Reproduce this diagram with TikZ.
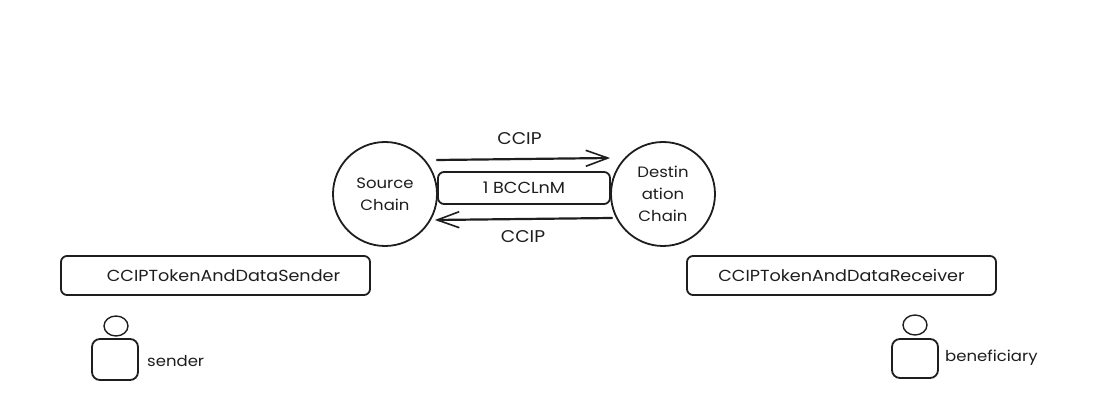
\documentclass[tikz,border=0pt]{standalone}
\usepackage{fontspec}
\setmainfont[FakeStretch=1.1]{Poppins}
\usetikzlibrary{arrows.meta,calc,shapes.geometric}
\definecolor{ink}{HTML}{1E1E1E}
\tikzset{
  ln/.style={draw=ink,line width=1.8pt,line cap=round,line join=round},
  chain/.style={ln,circle,minimum size=104pt,inner sep=0pt,align=center,font=\fontsize{15}{22}\selectfont,text=ink},
  contract/.style={ln,rectangle,rounded corners=6pt,minimum width=309pt,minimum height=39pt,inner sep=0pt,font=\fontsize{16}{18}\selectfont,text=ink},
  tokenbox/.style={ln,rectangle,rounded corners=6pt,minimum width=172pt,minimum height=32pt,inner sep=0pt,font=\fontsize{16}{18}\selectfont,text=ink},
  lab/.style={font=\fontsize{15}{17}\selectfont,text=ink,inner sep=0pt},
  wirelab/.style={font=\fontsize{17}{19}\selectfont,text=ink,inner sep=0pt},
  headshape/.style={draw=ink,line width=1.4pt,ellipse,inner sep=0pt,minimum width=24pt,minimum height=20pt},
  bodyshape/.style={ln,rectangle,rounded corners=8pt,minimum width=46pt,inner sep=0pt},
  flow/.style={ln,-{Straight Barb[length=22pt,width=16pt,line width=1.6pt]},line width=2.2pt}
}
\begin{document}
\begin{tikzpicture}[x=1pt,y=-1pt]
\useasboundingbox (0,0) rectangle (1103,403);
\fill[white] (0,0) rectangle (1103,403);
\node[chain] (src) at (385,194) {Source\\Chain};
\node[chain] (dst) at (663,194) {Destin\\ation\\Chain};
\node[tokenbox] (tok) at (524,188) {1 BCCLnM};
\node[contract] (snd) at (215.5,275.5) {\hspace{16pt}CCIPTokenAndDataSender};
\node[contract] (rcv) at (841.5,275.5) {CCIPTokenAndDataReceiver};
\node[wirelab] (ccipa) at (519.5,139) {CCIP};
\node[wirelab] (ccipb) at (523,237) {CCIP};
\node[headshape] (h1) at (116,326) {};
\node[bodyshape,minimum height=41pt] (b1) at (115,359.5) {};
\node[lab,anchor=west] (t1) at (147,361) {sender};
\node[headshape] (h2) at (915,325) {};
\node[bodyshape,minimum height=39pt] (b2) at (915,358.5) {};
\node[lab,anchor=west] (t2) at (945,358) {beneficiary};
\draw[flow] ($(src.east)+(-1,-34)$) -- ($(dst.west)+(0,-36)$);
\draw[flow] ($(dst.west)+(2,24)$) -- ($(src.east)+(-3,26)$);
\end{tikzpicture}
\end{document}
